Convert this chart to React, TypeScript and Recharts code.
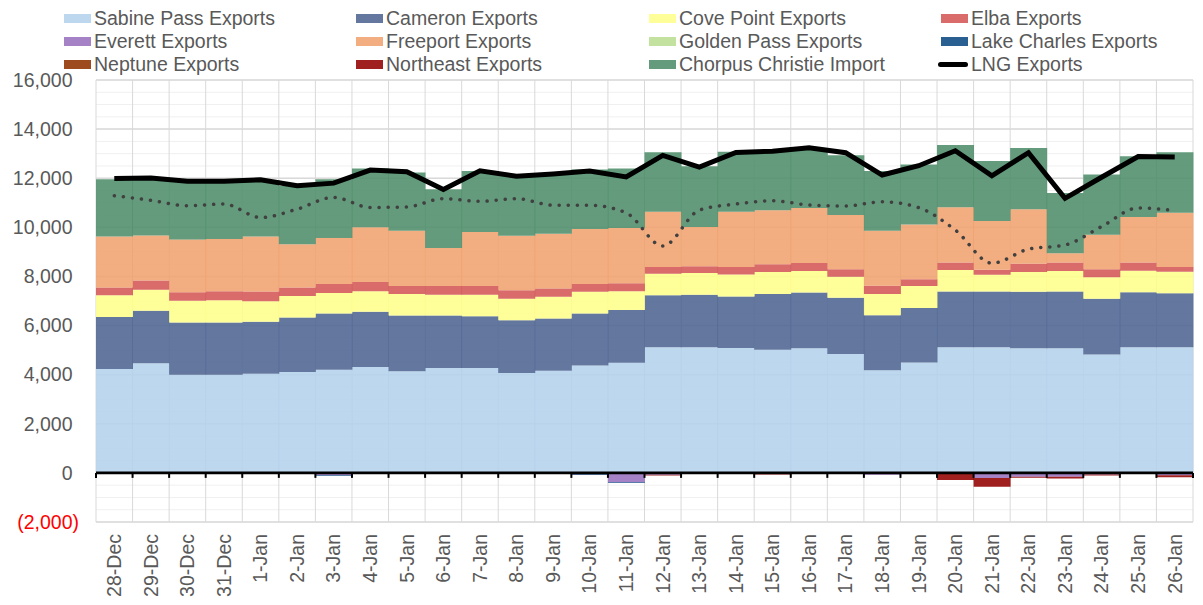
import { ComposedChart, Bar, Line, XAxis, YAxis, CartesianGrid, ReferenceLine, Legend } from "recharts";

const DAYS = [
  "28-Dec", "29-Dec", "30-Dec", "31-Dec", "1-Jan", "2-Jan", "3-Jan", "4-Jan", "5-Jan", "6-Jan",
  "7-Jan", "8-Jan", "9-Jan", "10-Jan", "11-Jan", "12-Jan", "13-Jan", "14-Jan", "15-Jan", "16-Jan",
  "17-Jan", "18-Jan", "19-Jan", "20-Jan", "21-Jan", "22-Jan", "23-Jan", "24-Jan", "25-Jan", "26-Jan",
];

const SABINE_PASS = [4230, 4460, 4000, 4000, 4040, 4110, 4200, 4310, 4140, 4270, 4270, 4070, 4160, 4370, 4490, 5120, 5120, 5090, 5010, 5080, 4840, 4180, 4500, 5120, 5120, 5080, 5080, 4820, 5120, 5120];
const CAMERON = [2120, 2140, 2120, 2120, 2120, 2220, 2290, 2250, 2270, 2140, 2110, 2150, 2130, 2120, 2140, 2110, 2130, 2090, 2280, 2270, 2290, 2240, 2220, 2270, 2270, 2300, 2310, 2270, 2240, 2200];
const COVE_POINT = [880, 860, 890, 910, 830, 870, 840, 840, 870, 840, 870, 870, 880, 890, 770, 880, 890, 900, 890, 870, 860, 870, 890, 870, 680, 800, 830, 880, 870, 870];
const ELBA = [320, 370, 350, 370, 400, 350, 360, 370, 330, 360, 360, 350, 340, 310, 320, 270, 280, 300, 320, 330, 300, 330, 280, 310, 200, 340, 350, 320, 340, 190];
const EVERETT = [0, 0, 0, 0, 0, 0, -90, -40, 0, 0, 0, 0, -20, -60, -380, -80, 0, 0, -40, 0, 0, -80, 0, -50, -210, -160, -160, -70, 0, -100];
const FREEPORT = [2080, 1840, 2140, 2120, 2240, 1760, 1880, 2230, 2250, 1550, 2200, 2220, 2230, 2240, 2250, 2250, 1590, 2250, 2200, 2240, 2210, 2240, 2230, 2250, 1990, 2220, 370, 1410, 1850, 2210];
const GOLDEN_PASS = [0, 0, 0, 0, 0, 0, 0, 0, 0, 0, 0, 0, 0, 0, 0, 0, 0, 0, 0, 0, 0, 0, 0, 0, 0, 0, 0, 0, 0, 0];
const LAKE_CHARLES = [0, 0, 0, 0, 0, 0, -30, 0, 0, 0, 0, 0, 0, -30, -30, 0, 0, -30, 0, 0, 0, 0, 0, 0, 0, 0, 0, 0, -50, 0];
const NEPTUNE = [0, 0, 0, 0, 0, 0, 0, 0, 0, 0, 0, 0, 0, 0, 0, 0, 0, 0, 0, 0, 0, 0, 0, 0, 0, 0, 0, 0, 0, 0];
const NORTHEAST = [0, 0, 0, 0, 0, 0, 0, 0, 0, 0, 0, 0, 0, 0, 0, -30, 0, 0, -30, 0, 0, 0, 0, -240, -350, -40, -70, -40, 0, -80];
const CHORPUS_CHRISTIE = [2330, 2290, 2380, 2360, 2290, 2370, 2390, 2400, 2370, 2390, 2480, 2440, 2450, 2430, 2430, 2430, 2480, 2450, 2400, 2400, 2440, 2430, 2440, 2530, 2440, 2490, 2460, 2450, 2470, 2470];
const LNG_EXPORTS = [11990, 12010, 11880, 11880, 11940, 11690, 11800, 12330, 12260, 11540, 12300, 12080, 12170, 12290, 12050, 12930, 12450, 13050, 13100, 13240, 13040, 12130, 12510, 13120, 12100, 13040, 11180, 12040, 12880, 12860];
const TREND = [11290, 11100, 10880, 10950, 10400, 10740, 11220, 10810, 10830, 11170, 11060, 11170, 10900, 10900, 10590, 9240, 10700, 10950, 11080, 10910, 10870, 11040, 10800, 9890, 8540, 9110, 9280, 10030, 10790, 10680];

const Y_TICKS = [-2000, 0, 2000, 4000, 6000, 8000, 10000, 12000, 14000, 16000];
const MINOR_STEP = 500;

const FONT = "'Liberation Sans', Arial, sans-serif";
const TEXT = "#595959";
const FILL_OPACITY = 0.88;

const SERIES = [
  { key: "sabine", name: "Sabine Pass Exports", color: "#B4D2EC" },
  { key: "cameron", name: "Cameron Exports", color: "#4E6492" },
  { key: "cove", name: "Cove Point Exports", color: "#FFFF8B" },
  { key: "elba", name: "Elba Exports", color: "#D55757" },
  { key: "everett", name: "Everett Exports", color: "#9971BD" },
  { key: "freeport", name: "Freeport Exports", color: "#F0A26E" },
  { key: "golden", name: "Golden Pass Exports", color: "#BBDE93" },
  { key: "lake", name: "Lake Charles Exports", color: "#0D4983" },
  { key: "neptune", name: "Neptune Exports", color: "#913100" },
  { key: "northeast", name: "Northeast Exports", color: "#930000" },
  { key: "chorpus", name: "Chorpus Christie Import", color: "#4D8D6A" },
];

const data = DAYS.map((day, i) => ({
  day,
  sabine: SABINE_PASS[i],
  cameron: CAMERON[i],
  cove: COVE_POINT[i],
  elba: ELBA[i],
  everett: EVERETT[i],
  freeport: FREEPORT[i],
  golden: GOLDEN_PASS[i],
  lake: LAKE_CHARLES[i],
  neptune: NEPTUNE[i],
  northeast: NORTHEAST[i],
  chorpus: CHORPUS_CHRISTIE[i],
  lng: LNG_EXPORTS[i],
  trend: TREND[i],
}));

const LEGEND_COLS = [64, 356, 649, 941];

function renderLegend() {
  const items = [...SERIES.map((s) => ({ ...s, line: false })), { key: "lng", name: "LNG Exports", color: "#000", line: true }];
  return (
    <div style={{ position: "relative", width: 1203, height: 80 }}>
      {items.map((item, i) => (
        <div
          key={item.key}
          style={{
            position: "absolute",
            left: LEGEND_COLS[i % 4],
            top: 7 + Math.floor(i / 4) * 23,
            height: 23,
            display: "flex",
            alignItems: "center",
            whiteSpace: "nowrap",
          }}
        >
          {item.line ? (
            <span style={{ width: 30, height: 5, background: "#000", borderRadius: 3, marginLeft: -3 }} />
          ) : (
            <span style={{ width: 27, height: 9, background: item.color, opacity: FILL_OPACITY }} />
          )}
          <span style={{ marginLeft: 3, fontFamily: FONT, fontSize: 19.5, color: TEXT, lineHeight: "23px" }}>{item.name}</span>
        </div>
      ))}
    </div>
  );
}

const YTick = ({ x, y, payload }: any) => {
  const v = payload.value as number;
  const neg = v < 0;
  const label = neg ? `(${Math.abs(v).toLocaleString("en-US")})` : v.toLocaleString("en-US");
  return (
    <text x={neg ? x : x - 6.5} y={y} dy="0.35em" textAnchor="end" fontFamily={FONT} fontSize={19.5} fill={neg ? "#FF0000" : TEXT}>
      {label}
    </text>
  );
};

const XTick = ({ x, y, payload }: any) => (
  <text
    x={x}
    y={y}
    dy="0.35em"
    textAnchor="end"
    transform={`rotate(-90, ${x}, ${y})`}
    fontFamily={FONT}
    fontSize={19.5}
    fill={TEXT}
  >
    {payload.value}
  </text>
);

// zero axis with Excel-style tick marks between the days
const ZeroAxis = (props: any) => {
  const { x1, x2, y1 } = props;
  const n = DAYS.length;
  const step = (x2 - x1) / n;
  return (
    <g>
      <line x1={x1} x2={x2} y1={y1} y2={y1} stroke="#000" strokeWidth={2.7} />
      {Array.from({ length: n + 1 }, (_, i) => (
        <line key={i} x1={x1 + i * step} x2={x1 + i * step} y1={y1} y2={y1 + 5} stroke="#000" strokeWidth={2} />
      ))}
    </g>
  );
};

const minorLines = ({ offset }: any) => {
  const lo = Y_TICKS[0];
  const hi = Y_TICKS[Y_TICKS.length - 1];
  const out: number[] = [];
  for (let v = lo; v <= hi; v += MINOR_STEP) {
    out.push(offset.top + (offset.height * (hi - v)) / (hi - lo));
  }
  return out;
};

const bandEdges = ({ offset }: any) =>
  Array.from({ length: DAYS.length + 1 }, (_, i) => offset.left + (i * offset.width) / DAYS.length);

export default function App() {
  return (
    <div style={{ position: "absolute", left: 0, top: 0, width: 1203, height: 605, background: "#fff" }}>
      <ComposedChart
        width={1203}
        height={605}
        data={data}
        stackOffset="sign"
        barCategoryGap={0}
        barGap={0}
        margin={{ top: 80, right: 10, bottom: 0, left: 0 }}
      >
        <CartesianGrid vertical={false} horizontalCoordinatesGenerator={minorLines} stroke="#F0F0F0" strokeWidth={1} />
        <CartesianGrid vertical={false} stroke="#D9D9D9" strokeWidth={1.5} />
        <CartesianGrid horizontal={false} verticalCoordinatesGenerator={bandEdges} stroke="#D9D9D9" strokeWidth={1} />
        <XAxis dataKey="day" interval={0} axisLine={false} tickLine={false} tickSize={0} tickMargin={12} height={83} tick={<XTick />} />
        <YAxis
          domain={[-2000, 16000]}
          ticks={Y_TICKS}
          width={96}
          axisLine={false}
          tickLine={false}
          tickSize={0}
          tickMargin={17}
          tick={<YTick />}
        />
        <Legend content={renderLegend} layout="horizontal" verticalAlign="middle" align="center" wrapperStyle={{ left: 0, top: 0, width: 1203, height: 80 }} />
        {SERIES.map((s) => (
          <Bar key={s.key} dataKey={s.key} name={s.name} stackId="terminals" fill={s.color} fillOpacity={FILL_OPACITY} isAnimationActive={false} />
        ))}
        <ReferenceLine y={0} shape={<ZeroAxis />} />
        <Line
          dataKey="trend"
          legendType="none"
          type="monotone"
          stroke="#404040"
          strokeWidth={3.5}
          strokeDasharray="0.1 9"
          strokeLinecap="round"
          dot={false}
          activeDot={false}
          isAnimationActive={false}
        />
        <Line dataKey="lng" name="LNG Exports" type="linear" stroke="#000" strokeWidth={5} dot={false} activeDot={false} isAnimationActive={false} />
      </ComposedChart>
    </div>
  );
}
